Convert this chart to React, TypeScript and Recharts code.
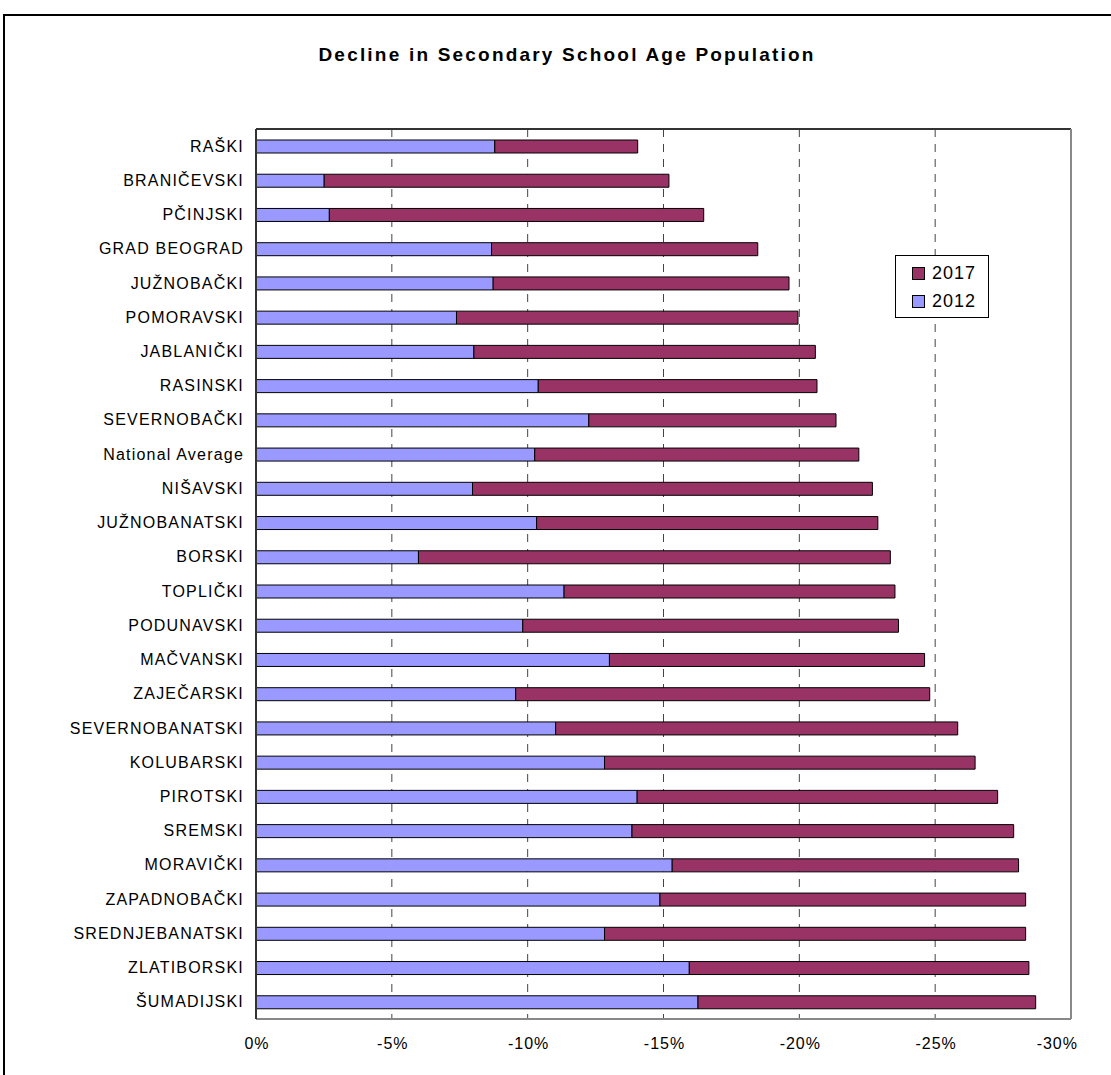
import React from 'react';
import { BarChart, Bar, XAxis, YAxis, CartesianGrid } from 'recharts';

const regions = [
  'RAŠKI', 'BRANIČEVSKI', 'PČINJSKI', 'GRAD BEOGRAD', 'JUŽNOBAČKI', 'POMORAVSKI',
  'JABLANIČKI', 'RASINSKI', 'SEVERNOBAČKI', 'National Average', 'NIŠAVSKI',
  'JUŽNOBANATSKI', 'BORSKI', 'TOPLIČKI', 'PODUNAVSKI', 'MAČVANSKI', 'ZAJEČARSKI',
  'SEVERNOBANATSKI', 'KOLUBARSKI', 'PIROTSKI', 'SREMSKI', 'MORAVIČKI',
  'ZAPADNOBAČKI', 'SREDNJEBANATSKI', 'ZLATIBORSKI', 'ŠUMADIJSKI',
];

// decline by 2012 (%)
const decline2012 = [
  -8.79, -2.51, -2.7, -8.67, -8.73, -7.38, -8.02, -10.39, -12.25, -10.26, -7.97,
  -10.33, -5.98, -11.34, -9.82, -13.01, -9.56, -11.03, -12.83, -14.03, -13.84,
  -15.32, -14.87, -12.83, -15.95, -16.27,
];

// further decline 2012-2017 (%)
const decline2017 = [
  -5.26, -12.69, -13.78, -9.8, -10.89, -12.57, -12.57, -10.26, -9.1, -11.93, -14.72,
  -12.56, -17.37, -12.18, -13.83, -11.6, -15.24, -14.8, -13.64, -13.27, -14.05,
  -12.75, -13.46, -15.5, -12.5, -12.43,
];

const xTicks = [0, -5, -10, -15, -20, -25, -30];

const series = [
  { key: 'y2012', name: '2012', color: '#9999FF' },
  { key: 'y2017', name: '2017', color: '#993366' },
];

const data = regions.map((name, i) => ({
  name,
  y2012: decline2012[i],
  y2017: decline2017[i],
}));

const FONT = '"Liberation Sans", Arial, sans-serif';

const YTick = ({ x, y, payload }: any) => (
  <text x={x} y={y} dy={5.5} textAnchor="end" fontSize={16} fontFamily={FONT} letterSpacing={1.2} fill="#000">
    {payload.value}
  </text>
);

const XTick = ({ x, y, payload, index }: any) => {
  const last = index === xTicks.length - 1;
  return (
    <text
      x={last ? x + 7 : x + 1}
      y={y}
      dy={30}
      textAnchor={last ? 'end' : 'middle'}
      fontSize={16}
      fontFamily={FONT}
      letterSpacing={1}
      fill="#000"
    >
      {`${payload.value}%`}
    </text>
  );
};

export default function App() {
  return (
    <div style={{ position: 'fixed', left: 0, top: 0, width: 1111, height: 1075, overflow: 'hidden', background: '#fff' }}>
      <div style={{ position: 'absolute', left: 3, top: 14, width: 1200, height: 1200, border: '2px solid #000' }} />
      <div
        style={{
          position: 'absolute', left: 267, top: 45, width: 600, textAlign: 'center',
          fontFamily: FONT, fontSize: 19, fontWeight: 'bold', lineHeight: '20px', letterSpacing: 2.2,
        }}
      >
        Decline in Secondary School Age Population
      </div>
      <div style={{ position: 'absolute', left: 0, top: 0 }}>
        <BarChart
          width={1111}
          height={1075}
          data={data}
          layout="vertical"
          margin={{ top: 128, right: 39, bottom: 0, left: 6 }}
          barSize={13}
        >
          <CartesianGrid horizontal={false} stroke="#444" strokeDasharray="8 7" />
          <XAxis
            type="number"
            domain={[-30, 0]}
            ticks={xTicks}
            reversed
            axisLine={{ stroke: '#888', strokeWidth: 2 }}
            tickLine={false}
            tickSize={0}
            tickMargin={0}
            tick={<XTick />}
            height={56}
            interval={0}
          />
          <XAxis
            xAxisId="top"
            orientation="top"
            type="number"
            domain={[-30, 0]}
            reversed
            axisLine={{ stroke: '#333', strokeWidth: 2 }}
            tick={false}
            tickLine={false}
            height={1}
          />
          <YAxis
            type="category"
            dataKey="name"
            width={250}
            axisLine={{ stroke: '#333', strokeWidth: 2 }}
            tickLine={false}
            tickSize={0}
            tickMargin={12}
            tick={<YTick />}
            interval={0}
          />
          <YAxis
            yAxisId="right"
            orientation="right"
            type="category"
            dataKey="name"
            axisLine={{ stroke: '#888', strokeWidth: 2 }}
            tick={false}
            tickLine={false}
            width={1}
          />
          {series.map((s) => (
            <Bar
              key={s.key}
              dataKey={s.key}
              name={s.name}
              stackId="a"
              fill={s.color}
              stroke="#000"
              strokeWidth={1}
              isAnimationActive={false}
            />
          ))}
        </BarChart>
      </div>
      <div
        style={{
          position: 'absolute', left: 895, top: 255, width: 94, height: 63, boxSizing: 'border-box',
          border: '1px solid #000', background: '#fff', paddingTop: 3,
        }}
      >
        {[...series].reverse().map((s) => (
          <div key={s.key} style={{ display: 'flex', alignItems: 'center', height: 28, paddingLeft: 16 }}>
            <span style={{ width: 13, height: 13, background: s.color, border: '1px solid #000', boxSizing: 'border-box', marginRight: 7 }} />
            <span style={{ fontFamily: FONT, fontSize: 18, letterSpacing: 1, color: '#000' }}>{s.name}</span>
          </div>
        ))}
      </div>
    </div>
  );
}
